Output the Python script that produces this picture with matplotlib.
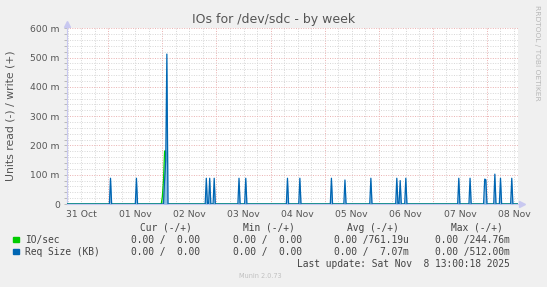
import numpy as np
import matplotlib.pyplot as plt
from matplotlib.patches import Rectangle

# time axis: hours counted from 31 Oct 00:00
day_labels = ['31 Oct', '01 Nov', '02 Nov', '03 Nov', '04 Nov',
              '05 Nov', '06 Nov', '07 Nov', '08 Nov']
t_start, t_end = 5.7, 205.9

# Req Size (KB) spikes, 30 min samples
req_hours = [25.0, 36.5, 49.0, 49.5, 50.0, 67.5, 69.0, 71.0, 82.0, 85.0,
             103.5, 109.0, 123.0, 129.0, 140.5, 152.0, 153.5, 156.0,
             179.5, 184.5, 191.0, 191.5, 195.5, 198.0, 203.0]
req_kb = [0.088, 0.088, 0.082, 0.15, 0.512, 0.088, 0.088, 0.088, 0.088, 0.088,
          0.088, 0.088, 0.088, 0.082, 0.088, 0.088, 0.080, 0.088,
          0.088, 0.088, 0.085, 0.083, 0.102, 0.088, 0.088]

# IO/sec
io_hours = [48.0, 48.5, 49.0, 49.5]
io_per_sec = [0.025, 0.082, 0.181, 0.181]

legend_names = ['IO/sec', 'Req Size (KB)']
legend_colors = ['#00cc00', '#0066b3']
col_heads = ['Cur (-/+)', 'Min (-/+)', 'Avg (-/+)', 'Max (-/+)']
io_stats = ['0.00 /  0.00', '0.00 /  0.00', '0.00 /761.19u', '0.00 /244.76m']
req_stats = ['0.00 /  0.00', '0.00 /  0.00', '0.00 /  7.07m', '0.00 /512.00m']

W, H = 547, 287


def fx(x):
    return x / W


def fy(y):
    return 1 - y / H


# sample grid (30 min)
t = np.arange(5.5, 206.5, 0.5)
req = np.zeros_like(t)
io = np.zeros_like(t)
for h, v in zip(req_hours, req_kb):
    req[int(round((h - 5.5) * 2))] = v
for h, v in zip(io_hours, io_per_sec):
    io[int(round((h - 5.5) * 2))] = v

fig = plt.figure(figsize=(W / 100, H / 100), dpi=100, facecolor='#f0f0f0')
ax = fig.add_axes([fx(67), fy(204), fx(518.3) - fx(67), fy(28.3) - fy(204)])
ax.set_facecolor('white')

# grid
dots = (0, (1, 1.5))
for h in np.arange(0, 216, 6):
    if h < t_start or h > t_end:
        continue
    if h % 24 == 0:
        ax.axvline(h, color='#eab0b0', lw=0.7, ls=dots, zorder=1)
    else:
        ax.axvline(h, color='#d6d6d6', lw=0.7, ls=dots, zorder=1)
for v in np.arange(0.02, 0.61, 0.02):
    if round(v * 100) % 10 == 0:
        ax.axhline(v, color='#eab0b0', lw=0.7, ls=dots, zorder=1)
    else:
        ax.axhline(v, color='#d6d6d6', lw=0.7, ls=dots, zorder=1)

# data
ax.fill_between(t, io, color='#90e090', lw=0, zorder=2)
ax.plot(t, io, color=legend_colors[0], lw=0.9, zorder=3)
ax.fill_between(t, req, color='#8dbde3', lw=0, zorder=4)
ax.plot(t, req, color=legend_colors[1], lw=0.9, zorder=5)

ax.set_xlim(t_start, t_end)
ax.set_ylim(0, 0.6)

ax.set_xticks([12 + 24 * i for i in range(len(day_labels))], day_labels)
ax.tick_params(axis='x', length=0, pad=4, labelsize=6.7, labelcolor='#555555')
yt = np.arange(0, 0.61, 0.1)
ax.set_yticks(yt, ['0'] + ['%d m' % round(v * 1000) for v in yt[1:]])
ax.set_yticks(np.arange(0, 0.61, 0.02), minor=True)
ax.tick_params(axis='y', which='both', length=2.2, width=0.6, color='#b0b0b0',
               pad=3, labelsize=6.6, labelcolor='#555555')

for s in ['top', 'right']:
    ax.spines[s].set_visible(False)
ax.spines['left'].set_color('#c8c8f0')
ax.spines['bottom'].set_color('#c8c8f0')
ax.plot([0], [1.025], marker='^', ms=4, color='#c8c8f0', transform=ax.transAxes, clip_on=False)
ax.plot([1.008], [0], marker='>', ms=4, color='#c8c8f0', transform=ax.transAxes, clip_on=False)

# texts
fig.text(fx(273.4), fy(19), 'IOs for /dev/sdc - by week', ha='center', va='center',
         fontsize=9, color='#555555')
fig.text(fx(11), fy(116), 'Units read (-) / write (+)', rotation=90, ha='center',
         va='center', fontsize=7.8, color='#555555')
fig.text(fx(537.5), fy(5), 'RRDTOOL / TOBI OETIKER', rotation=270, ha='center',
         va='top', fontsize=5.4, color='#b8b8b8')

mono = dict(family='DejaVu Sans Mono', fontsize=6.9, color='#444444', va='center')
head_right = [191.7, 295, 399, 503]
col_right = [200.3, 302, 408.7, 509.3]
for x, s in zip(head_right, col_heads):
    fig.text(fx(x), fy(228), s, ha='right', **mono)
for row, (name, col, stats) in enumerate(zip(legend_names, legend_colors,
                                              [io_stats, req_stats])):
    y = 239.7 + row * 12
    fig.add_artist(Rectangle((fx(13.3), fy(y + 2.7)), 5.4 / W, 5.4 / H,
                             color=col, transform=fig.transFigure))
    fig.text(fx(25), fy(y), name, ha='left', **mono)
    for x, s in zip(col_right, stats):
        fig.text(fx(x), fy(y), s, ha='right', **mono)
fig.text(fx(509.3), fy(263.7), 'Last update: Sat Nov  8 13:00:18 2025', ha='right', **mono)
fig.text(fx(260.5), fy(276.3), 'Munin 2.0.73', ha='center', va='center',
         fontsize=4.7, color='#c0c0c0')

fig.savefig('out.png', dpi=100, facecolor=fig.get_facecolor())
